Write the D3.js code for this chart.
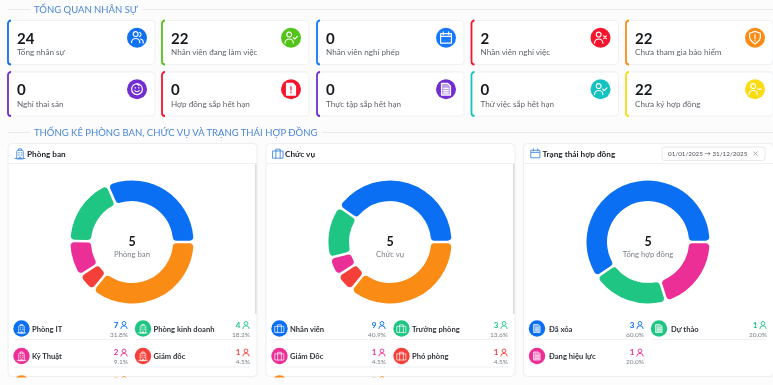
<!DOCTYPE html>
<html>
<head>
<meta charset="utf-8">
<script src="https://cdnjs.cloudflare.com/ajax/libs/d3/7.8.5/d3.min.js"></script>
<style>
  html, body { margin: 0; padding: 0; background: #fcfcfc; overflow: hidden; }
  svg { display: block; font-family: "Lato", "Open Sans", sans-serif; filter: blur(0.3px); }
</style>
</head>
<body>
<div id="chart"></div>
<script>
const width = 773, height = 385;

// KPI cards
const cardValues = [24, 22, 0, 2, 22, 0, 0, 0, 0, 22];
const cardLabels = ["Tổng nhân sự", "Nhân viên đang làm việc", "Nhân viên nghỉ phép", "Nhân viên nghỉ việc", "Chưa tham gia bảo hiểm",
  "Nghỉ thai sản", "Hợp đồng sắp hết hạn", "Thực tập sắp hết hạn", "Thử việc sắp hết hạn", "Chưa ký hợp đồng"];
const cardColors = ["#1072f0", "#52c41a", "#1677ff", "#f5162d", "#fa8c16", "#722ed1", "#f5162d", "#722ed1", "#13c2c2", "#fadb14"];
const cardIcons = ["users", "userCheck", "calendar", "userX", "shield", "baby", "docAlert", "doc", "userCheck", "userMinus"];

// donuts
const deptNames = ["Phòng IT", "Phòng kinh doanh", "Kỹ Thuật", "Giám đốc", ""];
const deptCounts = [7, 4, 2, 1, 8];
const deptPct = ["31.8%", "18.2%", "9.1%", "4.5%", ""];
const roleNames = ["Nhân viên", "Trưởng phòng", "Giám Đốc", "Phó phòng", ""];
const roleCounts = [9, 3, 1, 1, 8];
const rolePct = ["40.9%", "13.6%", "4.5%", "4.5%", ""];
const contractNames = ["Đã xóa", "Dự thảo", "Đang hiệu lực"];
const contractCounts = [3, 1, 1];
const contractPct = ["60.0%", "20.0%", "20.0%"];
const donutColors = ["#0a6ff2", "#1fc583", "#eb2f96", "#f5403a", "#fa8c16"];
const contractColors = ["#0a6ff2", "#1fc583", "#eb2f96"];

const svg = d3.select("#chart").append("svg")
  .attr("width", width).attr("height", height)
  .attr("viewBox", [0, 0, width, height]);

const defs = svg.append("defs");
defs.append("clipPath").attr("id", "pageClip")
  .append("rect").attr("x", 0).attr("y", 0).attr("width", width).attr("height", 377.5);

/* section titles */
const sectionTitle = (label, y, x2) => {
  svg.append("line").attr("x1", 8).attr("x2", 30).attr("y1", y).attr("y2", y).attr("stroke", "#e9ebee");
  svg.append("line").attr("x1", x2).attr("x2", width).attr("y1", y).attr("y2", y).attr("stroke", "#e9ebee");
  svg.append("text").attr("x", 34).attr("y", y + 3.4)
    .attr("font-size", 9.5).attr("fill", "#4a86d8").text(label);
};
sectionTitle("TỔNG QUAN NHÂN SỰ", 9.5, 142);
sectionTitle("THỐNG KÊ PHÒNG BAN, CHỨC VỤ VÀ TRẠNG THÁI HỢP ĐỒNG", 132.5, 322);

/* small line icons, drawn in a 20x20 box centred on 0,0 */
const iconParts = {
  users: g => { person(g, -1.5, -0.5); g.append("path").attr("d", "M2.5 -6a2.6 2.6 0 0 1 0 5M4 1.5a4 4 0 0 1 2.8 4.5"); },
  userCheck: g => { person(g, -2, 0); g.append("path").attr("d", "M2.5 0l1.6 1.6l3-3"); },
  userX: g => { person(g, -2, 0); g.append("path").attr("d", "M3.5 -2l3 3M6.5 -2l-3 3"); },
  userMinus: g => { person(g, -2, 0); g.append("path").attr("d", "M3 0h4"); },
  calendar: g => g.append("path").attr("d", "M-6 -4.5h12v10.5h-12zM-6 -1.5h12M-3 -6.5v3M3 -6.5v3"),
  shield: g => g.append("path").attr("d", "M0 -7l6 2v4c0 4-3 6-6 8c-3-2-6-4-6-8v-4zM0 -3.5v4M0 2.5v1"),
  baby: g => { g.append("circle").attr("r", 6); g.append("path").attr("d", "M-2.5 1.5a3 3 0 0 0 5 0M-2.2 -1.5h.6M1.6 -1.5h.6M0 -6a2 2 0 0 1 2 2"); },
  doc: g => { g.append("path").attr("d", "M-5 -6.5h7l3 3v10h-10z").attr("fill", "#fff").attr("fill-opacity", 0.55); g.append("path").attr("d", "M-2.5 -1h5M-2.5 1.5h5M-2.5 4h5"); },
  docAlert: g => { g.append("path").attr("d", "M-5 -6.5h7l3 3v10h-10z").attr("fill", "#fff"); g.append("path").attr("d", "M0 -3v4M0 3v1").attr("stroke", "#f5162d"); },
  building: g => g.append("path").attr("d", "M-4.5 7v-10a1.5 1.5 0 0 1 1.5 -1.5h6a1.5 1.5 0 0 1 1.5 1.5v10zM-7 7h14M-2 -1h1M1.5 -1h1M-2 2h1M1.5 2h1M-1 7v-2h2v2M-2 -4.5v-2h4v2").attr("fill-opacity", 0.3),
  briefcase: g => g.append("path").attr("d", "M-7 -3.5h14v10h-14zM-3 -3.5v-2.5h6v2.5M-3 -3.5v10M3 -3.5v10")
};
function person(g, x, y) {
  g.append("circle").attr("cx", x).attr("cy", y - 3.5).attr("r", 2.7);
  g.append("path").attr("d", `M${x - 4.6} ${y + 6}a4.6 4.6 0 0 1 9.2 0`);
}
const drawIcon = (parent, name, scale, color) => {
  const g = parent.append("g")
    .attr("transform", `scale(${scale})`)
    .attr("fill", "none").attr("stroke", color)
    .attr("stroke-width", 1.3).attr("stroke-linecap", "round").attr("stroke-linejoin", "round");
  iconParts[name](g);
  return g;
};

/* KPI cards */
const cardLeft = [8, 162, 317, 471.5, 626];
const cardRowY = [20.5, 72];
const cardW = 147, cardH = 44;

const cards = svg.selectAll(".card")
  .data(cardValues)
  .join("g")
    .attr("class", "card")
    .attr("transform", (d, i) => `translate(${cardLeft[i % 5]}, ${cardRowY[Math.floor(i / 5)]})`);

cards.append("rect")
  .attr("width", cardW).attr("height", cardH).attr("rx", 3.5)
  .attr("fill", "#fff").attr("stroke", "#eef0f2");
cards.append("path")
  .attr("d", `M3 0a3 3 0 0 0 -3 3v${cardH - 6}a3 3 0 0 0 3 3`)
  .attr("fill", "none").attr("stroke-width", 1.8)
  .attr("stroke", (d, i) => cardColors[i]);
cards.append("text")
  .attr("x", 9).attr("y", 23)
  .attr("font-size", 15).attr("font-weight", 700).attr("fill", "#15181c")
  .text(d => d);
cards.append("text")
  .attr("x", 9).attr("y", 34.5)
  .attr("font-size", 8.15).attr("fill", "#5f646b")
  .text((d, i) => cardLabels[i]);
cards.append("circle")
  .attr("cx", 129).attr("cy", 17.2).attr("r", 10)
  .attr("fill", (d, i) => cardColors[i]);
cards.each(function(d, i) {
  const g = d3.select(this).append("g").attr("transform", "translate(129, 17.2)");
  drawIcon(g, cardIcons[i], 0.9, "#fff");
});

/* panels with donut and legend */
const root = svg.append("g").attr("clip-path", "url(#pageClip)");

const drawPanel = (cfg) => {
  const { x, w, title, headIcon, legendIcon, names, counts, pct, colors, centerLabel, cx, col1, col2, scrollbar } = cfg;
  const colW = i => (i % 2 ? col2.w : col1.w);
  const panel = root.append("g");
  panel.append("rect")
    .attr("x", x).attr("y", 143.5).attr("width", w).attr("height", 233).attr("rx", 4)
    .attr("fill", "#fff").attr("stroke", "#eceef0");
  panel.append("line")
    .attr("x1", x).attr("x2", x + w).attr("y1", 163.5).attr("y2", 163.5).attr("stroke", "#eef0f2");
  if (scrollbar) {
    panel.append("rect").attr("x", x + w - 2).attr("y", 164).attr("width", 1.6).attr("height", 150).attr("fill", "#dcdde0");
  }

  const hi = panel.append("g").attr("transform", `translate(${x + 12}, 153.5) `);
  drawIcon(hi, headIcon, 0.72, "#4a8fdc");
  panel.append("text")
    .attr("x", x + 19).attr("y", 156.5)
    .attr("font-size", 8.2).attr("font-weight", 700).attr("fill", "#23272c")
    .text(title);

  const pie = d3.pie()
    .sort(null)
    .startAngle(Math.PI / 2)
    .endAngle(Math.PI / 2 - 2 * Math.PI)
    .padAngle(0.035);
  const arc = d3.arc().innerRadius(41).outerRadius(61.5).cornerRadius(3.5);

  const donut = panel.append("g").attr("transform", `translate(${cx}, 242)`);
  donut.selectAll("path")
    .data(pie(counts))
    .join("path")
      .attr("d", arc)
      .attr("fill", (d, i) => colors[i]);
  // the centre shows the number of groups, not the head count
  donut.append("text")
    .attr("text-anchor", "middle").attr("y", 3.8)
    .attr("font-size", 12.5).attr("font-weight", 700).attr("fill", "#15181c")
    .text(cfg.groupCount);
  donut.append("text")
    .attr("text-anchor", "middle").attr("y", 15)
    .attr("font-size", 7.7).attr("fill", "#7b8087")
    .text(centerLabel);

  const rowY = d3.scaleLinear().domain([0, 1]).range([328.5, 356]);
  const items = panel.selectAll(".item")
    .data(names)
    .join("g")
      .attr("class", "item")
      .attr("transform", (d, i) => `translate(${i % 2 ? col2.x : col1.x}, ${rowY(Math.floor(i / 2))})`);

  items.filter((d, i) => i < 2 || (i < 4 && names.length > 3)).append("line")
    .attr("x1", 0).attr("y1", 11)
    .attr("x2", (d, i) => colW(i)).attr("y2", 11)
    .attr("stroke", "#eef0f2");
  items.append("circle")
    .attr("cx", cfg.iconDx).attr("cy", 0).attr("r", 8.2)
    .attr("fill", (d, i) => colors[i]);
  items.each(function(d, i) {
    const g = d3.select(this).append("g").attr("transform", `translate(${cfg.iconDx}, 0)`);
    drawIcon(g, legendIcon, 0.62, "#fff").attr("opacity", 0.85);
  });
  items.append("text")
    .attr("x", cfg.labelDx).attr("y", 3)
    .attr("font-size", 7.6).attr("font-weight", 700).attr("fill", "#30343a")
    .text(d => d);

  items.append("text")
    .attr("x", (d, i) => colW(i) - 9.5).attr("y", -1)
    .attr("text-anchor", "end")
    .attr("font-size", 8).attr("font-weight", 700)
    .attr("fill", (d, i) => colors[i])
    .text((d, i) => counts[i]);
  items.each(function(d, i) {
    const g = d3.select(this).append("g")
      .attr("transform", `translate(${colW(i) - 4}, -3.5)`);
    const ic = g.append("g").attr("fill", "none").attr("stroke", colors[i]).attr("stroke-width", 0.9);
    ic.append("circle").attr("cy", -1.6).attr("r", 1.9);
    ic.append("path").attr("d", "M-3.2 4a3.2 3.2 0 0 1 6.4 0");
  });
  items.append("text")
    .attr("x", (d, i) => colW(i)).attr("y", 8)
    .attr("text-anchor", "end")
    .attr("font-size", 6.5).attr("fill", "#7b8087")
    .text((d, i) => pct[i]);
};

drawPanel({
  x: 8, w: 249, title: "Phòng ban", headIcon: "building", legendIcon: "building",
  names: deptNames, counts: deptCounts, pct: deptPct, colors: donutColors,
  groupCount: 5, centerLabel: "Phòng ban", cx: 132, col1: { x: 14, w: 114 }, col2: { x: 135.5, w: 114.5 },
  iconDx: 7.5, labelDx: 18, scrollbar: true
});
drawPanel({
  x: 266, w: 249, title: "Chức vụ", headIcon: "briefcase", legendIcon: "briefcase",
  names: roleNames, counts: roleCounts, pct: rolePct, colors: donutColors,
  groupCount: 5, centerLabel: "Chức vụ", cx: 390, col1: { x: 271, w: 115 }, col2: { x: 393, w: 115 },
  iconDx: 8.5, labelDx: 19, scrollbar: true
});
drawPanel({
  x: 523.5, w: 250, title: "Trạng thái hợp đồng", headIcon: "calendar", legendIcon: "doc",
  names: contractNames, counts: contractCounts, pct: contractPct, colors: contractColors,
  groupCount: 5, centerLabel: "Tổng hợp đồng", cx: 648, col1: { x: 529, w: 115 }, col2: { x: 651, w: 116 },
  iconDx: 8, labelDx: 20, scrollbar: false
});

/* date filter on the third panel */
const dateBox = svg.append("g").attr("transform", "translate(662, 147)");
dateBox.append("rect").attr("width", 103).attr("height", 13.5).attr("rx", 2.5)
  .attr("fill", "#fff").attr("stroke", "#e6e8eb");
dateBox.append("text").attr("x", 6).attr("y", 9.2)
  .attr("font-size", 6.3).attr("fill", "#4b5057")
  .text("01/01/2025 → 31/12/2025");
dateBox.append("path").attr("d", "M91.5 4.5l4 4M95.5 4.5l-4 4")
  .attr("stroke", "#8a8f96").attr("stroke-width", 0.7);
</script>
</body>
</html>
